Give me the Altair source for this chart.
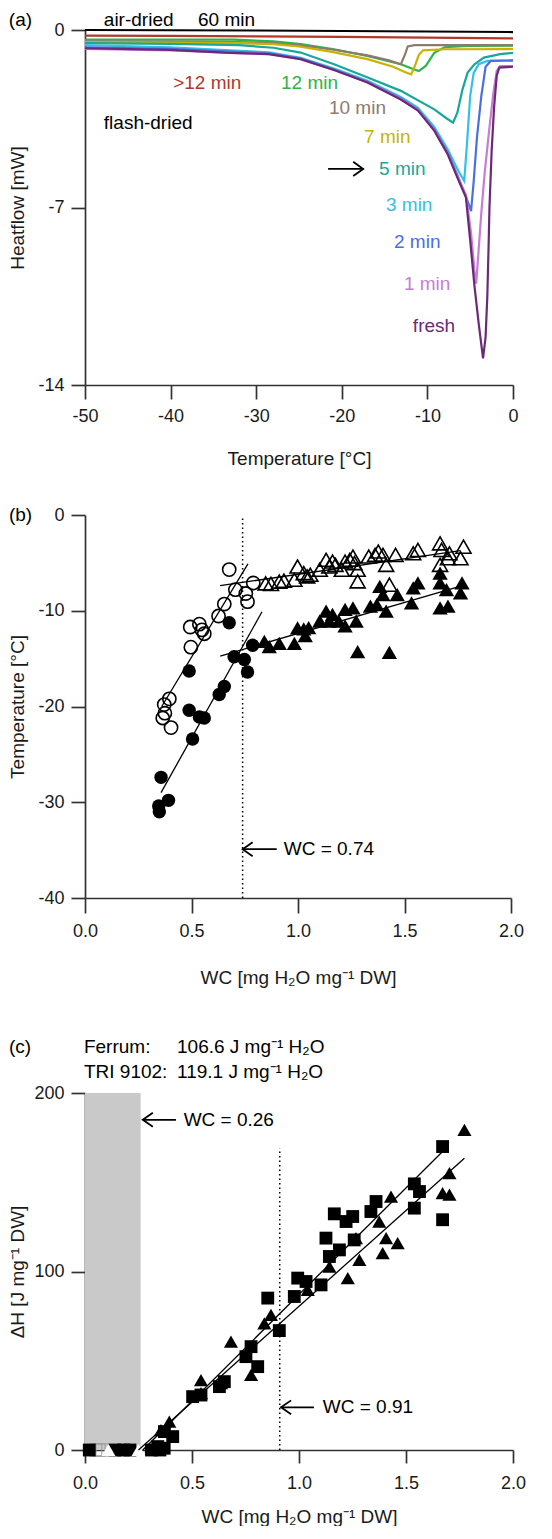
import altair as alt
import pandas as pd

FONT = "Liberation Sans"

# ---------------- Panel (a): DSC heat-flow curves ----------------
series_names = ["60 min", ">12 min", "12 min", "10 min", "7 min", "5 min", "3 min", "2 min", "1 min", "fresh"]
series_colors = ["#000000", "#b0392b", "#2db34a", "#8c7b70", "#c8b400", "#17a899", "#35c0e6", "#4a6fe0", "#c77dd6", "#6b2a78"]

t_60 = [-50, -40, -30, -20, -10, 0]
h_60 = [0.0, -0.01, -0.02, -0.04, -0.06, -0.08]

t_gt12 = [-50, -40, -30, -20, -10, 0]
h_gt12 = [-0.22, -0.23, -0.25, -0.27, -0.30, -0.33]

t_12 = [-50, -40, -32.6, -28, -24.8, -20.9, -16.9, -13.1, -11.6, -11.0, -10.2, -9.2, -8.0, -5.3, 0]
h_12 = [-0.38, -0.38, -0.38, -0.45, -0.56, -0.76, -1.03, -1.35, -1.55, -1.62, -1.42, -0.9, -0.68, -0.63, -0.62]

t_10 = [-50, -40, -32, -28, -25, -21, -17, -14.5, -13.1, -12.6, -12.3, -11.5, -5, 0]
h_10 = [-0.45, -0.46, -0.48, -0.52, -0.6, -0.78, -1.0, -1.2, -1.35, -0.95, -0.65, -0.6, -0.6, -0.6]

t_7 = [-50, -40, -32, -28, -25, -21, -17, -14, -12.5, -11.9, -11.5, -11.0, -10.5, -8, 0]
h_7 = [-0.48, -0.5, -0.52, -0.56, -0.65, -0.87, -1.15, -1.45, -1.68, -1.75, -1.45, -0.98, -0.8, -0.76, -0.75]

t_5 = [-50, -40, -32, -28, -24.8, -20.9, -16.9, -13.1, -9.2, -7.7, -7.0, -6.5, -5.9, -5.3, -4.5, -3.4, -1.5, 0]
h_5 = [-0.52, -0.55, -0.6, -0.7, -0.89, -1.35, -1.88, -2.4, -3.13, -3.5, -3.65, -3.26, -2.34, -1.68, -1.35, -1.09, -0.95, -0.9]

t_3 = [-50, -40, -33, -28.5, -24.8, -20.9, -17, -13.1, -11.1, -9.2, -7.6, -6.4, -5.7, -5.4, -5.0, -4.6, -4.0, -3.0, 0]
h_3 = [-0.6, -0.68, -0.8, -0.88, -1.1, -1.52, -2.0, -2.64, -3.07, -3.82, -4.72, -5.55, -5.95, -4.6, -2.6, -1.7, -1.35, -1.22, -1.2]

t_2 = [-50, -40, -33, -28.5, -24.8, -20.9, -17, -13.1, -11.1, -9.2, -7.6, -6.4, -5.7, -5.2, -4.9, -4.6, -4.2, -3.7, -3.2, -2.6, 0]
h_2 = [-0.68, -0.74, -0.85, -0.92, -1.13, -1.56, -2.04, -2.7, -3.14, -3.92, -4.85, -5.8, -6.4, -6.85, -7.14, -6.0, -4.2, -2.6, -1.45, -1.22, -1.2]

t_1 = [-50, -40, -33, -28.5, -24.8, -20.9, -17, -13.1, -11.1, -9.2, -7.6, -6.4, -5.5, -4.9, -4.5, -4.3, -4.0, -3.7, -3.3, -2.8, -2.3, -1.9, -1.5, 0]
h_1 = [-0.75, -0.8, -0.9, -0.95, -1.15, -1.58, -2.06, -2.72, -3.16, -3.95, -4.9, -5.85, -6.5, -8.0, -9.5, -10.0, -8.6, -7.2, -5.6, -4.0, -2.5, -1.6, -1.42, -1.42]

t_f = [-50, -40, -33, -28.5, -24.8, -20.9, -17, -13.1, -11.1, -9.2, -7.6, -6.4, -5.5, -5.0, -4.5, -4.0, -3.5, -3.2, -3.0, -2.85, -2.75, -2.5, -2.2, -1.9, -1.6, 0]
h_f = [-0.72, -0.78, -0.9, -0.95, -1.15, -1.58, -2.07, -2.74, -3.18, -3.97, -4.92, -5.9, -6.6, -8.3, -10.1, -11.6, -12.95, -12.1, -10.5, -8.5, -7.0, -4.8, -3.0, -1.8, -1.48, -1.45]

a_label_text = ["(a)", "air-dried", "60 min", ">12 min", "12 min", "10 min", "flash-dried", "7 min", "5 min", "3 min", "2 min", "1 min", "fresh"]
a_label_x = [-58.9, -47.8, -36.8, -39.7, -27.1, -21.5, -47.8, -17.4, -15.65, -14.84, -13.9, -12.74, -11.7]
a_label_y = [0.4, 0.4, 0.4, -2.09, -2.09, -3.08, -3.67, -4.22, -5.48, -6.9, -8.36, -10.0, -11.67]
a_label_color = ["#000000", "#000000", "#000000", "#b0392b", "#2db34a", "#8c7b70", "#000000", "#c8b400", "#17a899", "#35c0e6", "#4a6fe0", "#c77dd6", "#6b2a78"]

a_arrow_x = [-21.6, -17.5, -18.67, -17.5, -18.67]
a_arrow_y = [-5.48, -5.48, -5.2, -5.48, -5.76]
a_arrow_grp = [0, 0, 1, 1, 1]

# ---------------- Panel (b): freezing temperature vs WC ----------------
b_oc_x = [0.677, 0.706, 0.755, 0.763, 0.79, 0.654, 0.627, 0.494, 0.537, 0.549, 0.56, 0.497, 0.372, 0.396, 0.365, 0.375, 0.404]
b_oc_y = [-5.7, -7.8, -8.2, -9.05, -7.1, -9.3, -10.55, -11.7, -11.4, -12.0, -12.4, -13.8, -19.8, -19.2, -21.2, -20.7, -22.2]

b_fc_x = [0.677, 0.489, 0.70, 0.748, 0.763, 0.787, 0.654, 0.63, 0.489, 0.537, 0.56, 0.505, 0.357, 0.392, 0.346, 0.349]
b_fc_y = [-11.25, -16.3, -14.8, -15.1, -16.4, -13.6, -17.9, -18.75, -20.4, -21.1, -21.2, -23.4, -27.4, -29.8, -30.4, -31.0]

b_ft_x = [0.842, 0.865, 0.912, 0.983, 0.998, 1.027, 1.05, 1.034, 1.102, 1.132, 1.162, 1.147, 1.191, 1.221, 1.258,
          1.273, 1.221, 1.28, 1.34, 1.37, 1.414, 1.384, 1.399, 1.466, 1.429, 1.541, 1.563, 1.533, 1.667, 1.667,
          1.697, 1.667, 1.704, 1.77, 1.763]
b_ft_y = [-13.2, -13.75, -13.4, -13.4, -11.8, -11.9, -11.76, -12.6, -11.07, -10.04, -10.38, -11.07, -11.07, -9.86, -9.69,
          -11.07, -11.58, -14.27, -9.52, -9.35, -10.03, -7.45, -8.31, -8.31, -14.34, -7.62, -7.1, -9.17, -6.07, -7.1,
          -7.79, -9.69, -9.52, -7.1, -8.14]

b_ot_x = [0.848, 0.873, 0.912, 0.934, 0.983, 0.998, 1.027, 1.043, 1.058, 1.102, 1.132, 1.147, 1.162, 1.176, 1.206,
          1.221, 1.243, 1.258, 1.265, 1.28, 1.28, 1.332, 1.362, 1.377, 1.399, 1.414, 1.458, 1.429, 1.541, 1.563,
          1.667, 1.674, 1.704, 1.711, 1.667, 1.763, 1.777]
b_ot_y = [-7.14, -7.2, -6.96, -6.86, -6.76, -5.38, -6.07, -6.41, -6.24, -5.72, -4.68, -5.38, -4.86, -5.21, -5.72,
          -4.86, -4.68, -4.34, -5.03, -5.72, -6.93, -4.34, -4.17, -3.82, -4.17, -5.21, -4.17, -7.28, -4.0, -3.65,
          -2.96, -3.65, -4.52, -4.0, -5.21, -4.52, -3.31]

b_fit_x = [0.36, 0.765, 0.357, 0.831, 0.635, 1.748, 0.634, 1.763]
b_fit_y = [-20.0, -5.1, -29.0, -10.1, -14.73, -7.52, -7.38, -3.73]
b_fit_grp = [0, 0, 1, 1, 2, 2, 3, 3]

b_wc_line = [0.74]
b_wc_y = [-40]
b_wc_y2 = [-0.2]

b_arrow_x = [0.74, 0.90, 0.787, 0.74, 0.787]
b_arrow_y = [-34.9, -34.9, -34.17, -34.9, -35.63]
b_arrow_grp = [0, 0, 1, 1, 1]

b_label_text = ["(b)", "WC = 0.74"]
b_label_x = [-0.357, 0.933]
b_label_y = [0.0, -34.9]

# ---------------- Panel (c): enthalpy vs WC ----------------
c_sq_x = [1.671, 1.539, 1.563, 1.539, 1.671, 1.36, 1.336, 1.165, 1.22, 1.251, 1.126, 1.189, 1.142, 1.258, 0.994,
          1.033, 1.103, 0.978, 0.854, 0.908, 0.776, 0.752, 0.807, 0.651, 0.628, 0.503, 0.542, 0.371, 0.41, 0.34,
          0.02, 0.14, 0.18, 0.21, 0.31, 0.35, 0.37]
c_sq_y = [170.0, 149.1, 144.8, 135.5, 129.0, 139.2, 133.6, 132.3, 128.0, 130.8, 118.7, 112.1, 108.4, 117.7, 96.3,
          94.4, 92.5, 86.0, 85.1, 66.9, 57.9, 52.3, 46.7, 38.3, 35.5, 29.9, 30.8, 10.3, 7.5, 1.9,
          0, 0, 0, 0, 0, 0, 1.0]

c_tr_x = [1.773, 1.703, 1.671, 1.703, 1.43, 1.375, 1.407, 1.461, 1.391, 1.266, 1.282, 1.142, 1.228, 1.041, 0.869,
          0.838, 0.682, 0.776, 0.542, 0.542, 0.636, 0.394, 0.355, 0.13, 0.17, 0.2, 0.23]
c_tr_y = [179.4, 155.1, 143.9, 143.0, 142.0, 128.0, 118.7, 115.9, 110.3, 118.7, 106.5, 102.8, 96.3, 89.7, 75.7,
          71.0, 60.7, 42.1, 39.2, 31.8, 37.4, 15.9, 11.2, 0, 0, 0, 0]

c_otr_x = [0.11, 0.25]
c_otr_y = [0, 0]

c_osq_x = [0.05, 0.065, 0.08]
c_osq_y = [0, 0, 0]

c_fit_x = [0.27, 1.671, 0.25, 1.773]
c_fit_y = [0.0, 167.2, 0.0, 163.5]
c_fit_grp = [0, 0, 1, 1]

c_band_x = [0.0]
c_band_x2 = [0.26]
c_band_y = [0]
c_band_y2 = [200]

c_wc_line = [0.91]
c_wc_y = [0]
c_wc_y2 = [169]

c_arrow_x = [0.27, 0.425, 0.317, 0.27, 0.317, 0.916, 1.07, 0.963, 0.916, 0.963]
c_arrow_y = [185, 185, 188.9, 185, 181.1, 23.9, 23.9, 27.8, 23.9, 20.0]
c_arrow_grp = [0, 0, 1, 1, 1, 2, 2, 3, 3, 3]

c_label_text = ["(c)", "Ferrum:", "106.6 J mg\u207b\u00b9 H\u2082O", "TRI 9102:", "119.1 J mg\u207b\u00b9 H\u2082O", "WC = 0.26", "WC = 0.91"]
c_label_x = [-0.355, -0.005, 0.43, -0.005, 0.43, 0.461, 1.111]
c_label_y = [226, 226, 226, 212, 212, 185, 23.9]


# ---------------- helpers ----------------
def mk_axis(**kw):
    base = dict(grid=False, domainColor="#333333", tickColor="#333333", domainWidth=1.7, tickWidth=1.7,
                labelFont=FONT, titleFont=FONT, labelFontSize=18, titleFontSize=19,
                labelColor="#1a1a1a", titleColor="#1a1a1a", titleFontWeight="normal",
                tickSize=14, labelPadding=7, labelFlush=False, labelOverlap=False)
    base.update(kw)
    return alt.Axis(**base)


def txt_layer(df, X, Y):
    return alt.Chart(df).mark_text(align="left", baseline="middle", fontSize=19, font=FONT).encode(
        x=X, y=Y, text="t:N", color=alt.Color("c:N", scale=None))


# ---------------- build panel (a) ----------------
curve_t = [t_60, t_gt12, t_12, t_10, t_7, t_5, t_3, t_2, t_1, t_f]
curve_h = [h_60, h_gt12, h_12, h_10, h_7, h_5, h_3, h_2, h_1, h_f]
rows = []
for name, ts, hs in zip(series_names, curve_t, curve_h):
    for i, (t, h) in enumerate(zip(ts, hs)):
        rows.append({"s": name, "x": t, "y": h, "i": i})
dfa = pd.DataFrame(rows)

XA = alt.X("x:Q", scale=alt.Scale(domain=[-50, 0], nice=False, zero=False),
           axis=mk_axis(title="Temperature [°C]", values=[-50, -40, -30, -20, -10, 0],
                        labelExpr="'' + datum.value", titlePadding=24, labelPadding=8))
YA = alt.Y("y:Q", scale=alt.Scale(domain=[-14, 0], nice=False, zero=False),
           axis=mk_axis(title="Heatflow [mW]", values=[0, -7, -14], labelExpr="'' + datum.value", titlePadding=10))

lines_a = alt.Chart(dfa).mark_line(strokeWidth=2.2).encode(
    x=XA, y=YA, detail="s:N", order="i:Q",
    color=alt.Color("s:N", scale=alt.Scale(domain=series_names, range=series_colors), legend=None))

dfa_txt = pd.DataFrame({"t": a_label_text, "x": a_label_x, "y": a_label_y, "c": a_label_color})
dfa_arr = pd.DataFrame({"x": a_arrow_x, "y": a_arrow_y, "g": a_arrow_grp, "i": list(range(len(a_arrow_x)))})
arrow_a = alt.Chart(dfa_arr).mark_line(color="black", strokeWidth=1.8).encode(x=XA, y=YA, detail="g:N", order="i:Q")

panel_a = alt.layer(lines_a, arrow_a, txt_layer(dfa_txt, XA, YA)).properties(width=428, height=355)

# ---------------- build panel (b) ----------------
XB = alt.X("x:Q", scale=alt.Scale(domain=[0, 2], nice=False, zero=False),
           axis=mk_axis(title="WC [mg H\u2082O mg\u207b\u00b9 DW]", values=[0, 0.5, 1.0, 1.5, 2.0], format=".1f",
                        titlePadding=28, labelPadding=9, tickSize=15))
YB = alt.Y("y:Q", scale=alt.Scale(domain=[-40, 0], nice=False, zero=False),
           axis=mk_axis(title="Temperature [°C]", values=[0, -10, -20, -30, -40], labelExpr="'' + datum.value",
                        titlePadding=10))


def pts(xs, ys, shape, filled, size, X, Y, stroke="black", sw=1.6):
    df = pd.DataFrame({"x": xs, "y": ys})
    if filled:
        m = alt.Chart(df).mark_point(shape=shape, filled=True, size=size, color=stroke, opacity=1)
    else:
        m = alt.Chart(df).mark_point(shape=shape, filled=False, size=size, color=stroke, opacity=1, strokeWidth=sw)
    return m.encode(x=X, y=Y)


dfb_fit = pd.DataFrame({"x": b_fit_x, "y": b_fit_y, "g": b_fit_grp})
fit_b = alt.Chart(dfb_fit).mark_line(color="black", strokeWidth=1.3).encode(x=XB, y=YB, detail="g:N")
dfb_wc = pd.DataFrame({"x": b_wc_line, "y": b_wc_y, "y2": b_wc_y2})
wc_b = alt.Chart(dfb_wc).mark_rule(color="black", strokeWidth=1.5, strokeDash=[1.5, 3]).encode(x=XB, y=YB, y2="y2:Q")
dfb_arr = pd.DataFrame({"x": b_arrow_x, "y": b_arrow_y, "g": b_arrow_grp, "i": list(range(len(b_arrow_x)))})
arrow_b = alt.Chart(dfb_arr).mark_line(color="black", strokeWidth=1.8).encode(x=XB, y=YB, detail="g:N", order="i:Q")
dfb_txt = pd.DataFrame({"t": b_label_text, "x": b_label_x, "y": b_label_y, "c": ["#000000"] * len(b_label_text)})

panel_b = alt.layer(
    wc_b, fit_b,
    pts(b_oc_x, b_oc_y, "circle", False, 175, XB, YB),
    pts(b_fc_x, b_fc_y, "circle", True, 180, XB, YB),
    pts(b_ot_x, b_ot_y, "triangle-up", False, 225, XB, YB),
    pts(b_ft_x, b_ft_y, "triangle-up", True, 235, XB, YB),
    arrow_b, txt_layer(dfb_txt, XB, YB),
).properties(width=426, height=383)

# ---------------- build panel (c) ----------------
XC = alt.X("x:Q", scale=alt.Scale(domain=[0, 2], nice=False, zero=False),
           axis=mk_axis(title="WC [mg H\u2082O mg\u207b\u00b9 DW]", values=[0, 0.5, 1.0, 1.5, 2.0], format=".1f",
                        titlePadding=15, labelPadding=11, tickSize=13))
YC = alt.Y("y:Q", scale=alt.Scale(domain=[0, 200], nice=False, zero=False),
           axis=mk_axis(title="\u0394H [J mg\u207b\u00b9 DW]", values=[0, 100, 200], titlePadding=6))

dfc_band = pd.DataFrame({"x": c_band_x, "x2": c_band_x2, "y": c_band_y, "y2": c_band_y2})
band_c = alt.Chart(dfc_band).mark_rect(color="#c9c9c9").encode(x=XC, x2="x2:Q", y=YC, y2="y2:Q")
dfc_fit = pd.DataFrame({"x": c_fit_x, "y": c_fit_y, "g": c_fit_grp})
fit_c = alt.Chart(dfc_fit).mark_line(color="black", strokeWidth=1.3).encode(x=XC, y=YC, detail="g:N")
dfc_wc = pd.DataFrame({"x": c_wc_line, "y": c_wc_y, "y2": c_wc_y2})
wc_c = alt.Chart(dfc_wc).mark_rule(color="black", strokeWidth=1.5, strokeDash=[1.5, 3]).encode(x=XC, y=YC, y2="y2:Q")
dfc_arr = pd.DataFrame({"x": c_arrow_x, "y": c_arrow_y, "g": c_arrow_grp, "i": list(range(len(c_arrow_x)))})
arrow_c = alt.Chart(dfc_arr).mark_line(color="black", strokeWidth=1.8).encode(x=XC, y=YC, detail="g:N", order="i:Q")
dfc_txt = pd.DataFrame({"t": c_label_text, "x": c_label_x, "y": c_label_y, "c": ["#000000"] * len(c_label_text)})

panel_c = alt.layer(
    band_c, wc_c,
    pts(c_osq_x, c_osq_y, "square", False, 150, XC, YC, stroke="#9a9a9a", sw=1.0),
    pts(c_sq_x, c_sq_y, "square", True, 165, XC, YC),
    pts(c_tr_x, c_tr_y, "triangle-up", True, 200, XC, YC),
    pts(c_otr_x, c_otr_y, "triangle-up", True, 190, XC, YC, stroke="white"),
    fit_c, arrow_c, txt_layer(dfc_txt, XC, YC),
).properties(width=428, height=357)

chart = alt.vconcat(
    panel_a,
    alt.vconcat(panel_b, panel_c, spacing=50),
    spacing=38,
).properties(padding={"left": 0, "top": 2, "right": 0, "bottom": 0}).configure_view(stroke=None)

chart.save("out.html", embed_options={"renderer": "svg", "actions": False})
